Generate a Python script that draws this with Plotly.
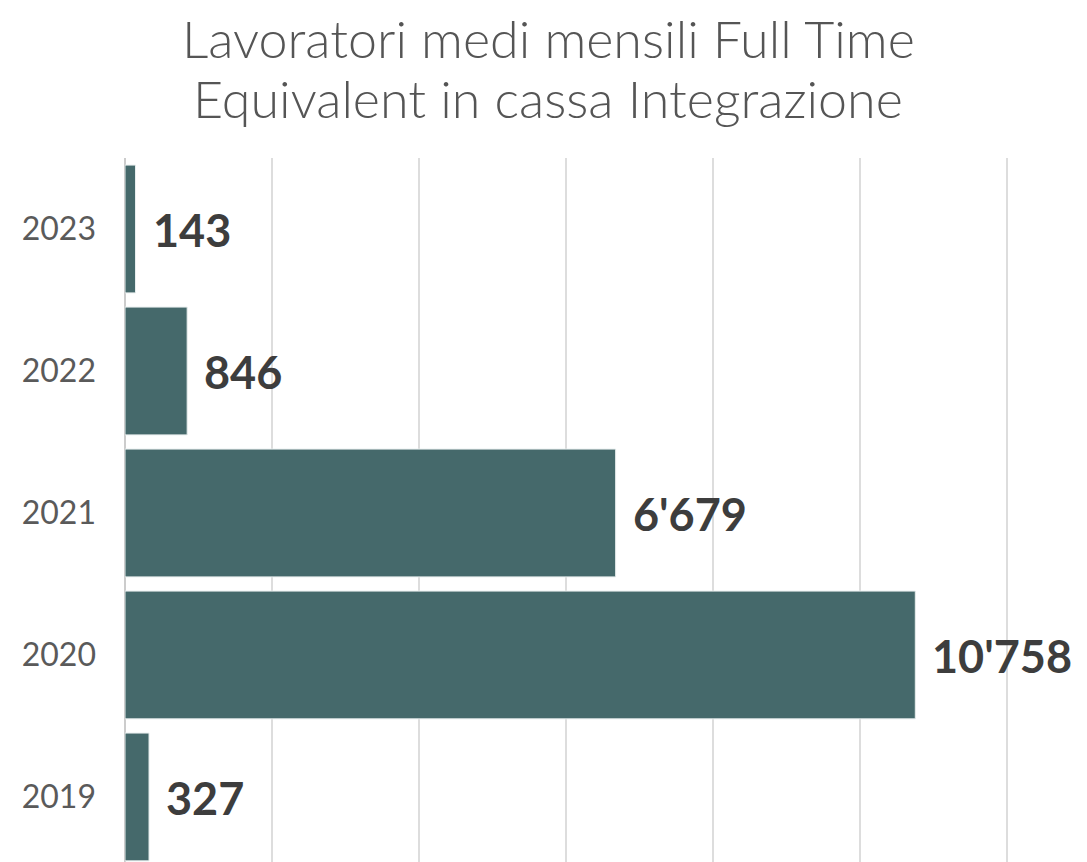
import plotly.graph_objects as go

years = ["2019", "2020", "2021", "2022", "2023"]
values = [327, 10758, 6679, 846, 143]
labels = [f"{v:,}".replace(",", "'") for v in values]
title_lines = ["Lavoratori medi mensili Full Time", "Equivalent in cassa Integrazione"]

fig = go.Figure()
fig.add_trace(go.Bar(
    x=values, y=list(range(len(years))), orientation="h",
    marker=dict(color="#45696b", line=dict(color="#e8eeee", width=1)),
    width=0.9, hoverinfo="skip",
))
for i, (v, t) in enumerate(zip(values, labels)):
    fig.add_annotation(x=v, y=i, xref="x", yref="y", text=t, showarrow=False,
                       xanchor="left", yanchor="middle", xshift=15, yshift=-1,
                       font=dict(family="Lato", size=45, color="#3d3d3d", weight="bold"))

for line, ypos in zip(title_lines, [1.1705, 1.0855]):
    fig.add_annotation(
        text=line, xref="paper", yref="paper", x=0.443, y=ypos,
        xanchor="center", yanchor="middle", showarrow=False,
        font=dict(family="Lato", size=52, color="#555555", weight=300))

fig.update_layout(
    width=1087, height=862,
    margin=dict(l=125, r=7, t=158, b=0),
    paper_bgcolor="white", plot_bgcolor="white",
    showlegend=False,
    xaxis=dict(range=[0, 13000], dtick=2000, showticklabels=False,
               showgrid=True, gridcolor="#dddddd", gridwidth=2,
               zeroline=True, zerolinecolor="#cccccc", zerolinewidth=2,
               automargin=False),
    yaxis=dict(range=[-0.458, 4.5], showgrid=False, zeroline=False,
               tickmode="array", tickvals=list(range(len(years))), ticktext=years,
               tickfont=dict(family="Lato", size=32, color="#5a5a5a"),
               ticks="", ticklabelstandoff=28, automargin=False),
)
fig.write_html("out.html", config={"displayModeBar": False},
               post_script="document.body.style.margin='0';")
